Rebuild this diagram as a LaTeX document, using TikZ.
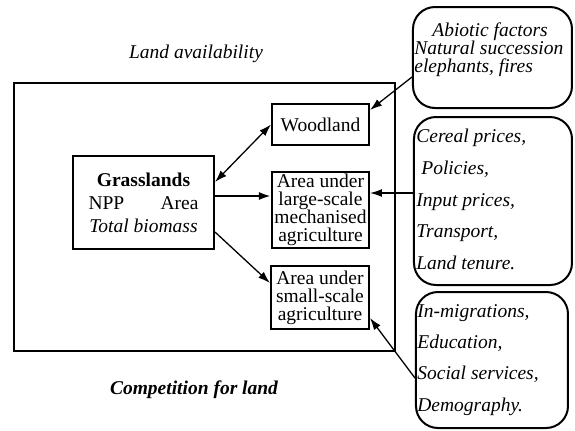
\documentclass[tikz,border=0pt]{standalone}
\usepackage{fontspec}
\setmainfont{LiberationSerif}[Extension=.ttf,
  UprightFont=*-Regular, BoldFont=*-Bold,
  ItalicFont=*-Italic, BoldItalicFont=*-BoldItalic]
\usetikzlibrary{arrows.meta}

\tikzset{
  box/.style={draw, line width=1pt, inner sep=1pt, align=center},
  rbox/.style={draw, line width=1pt, rounded corners=11pt},
  link/.style={line width=0.65pt, -{Latex[length=6pt,width=4pt]}},
}

\begin{document}
\begin{tikzpicture}[x=0.5pt,y=-0.5pt,font=\fontsize{9.75}{9}\selectfont]
      \useasboundingbox (0,0) rectangle (575,430);

      % Draw land frame
      \draw[line width=1pt] (14,83) rectangle (395,351);
      \node (avail) at (196,54) {\itshape Land availability};
      \node (compet) at (194,390) {\bfseries\itshape Competition for land};

      % Draw land uses
      \node[box, minimum width=70.5pt, minimum height=46.5pt,
            font=\fontsize{9.75}{11.5}\selectfont] (grass) at (143.5,202.5)
            {\textbf{Grasslands}\\ NPP\hspace{1.86em}Area\\ \textit{Total biomass}};
      \node[box, minimum width=48.5pt, minimum height=20.5pt] (wood) at (320.5,124.5) {Woodland};
      \node[box, minimum width=48.5pt, minimum height=38pt] (large) at (320.5,210)
            {Area under\\ large-scale\\ mechanised\\ agriculture};
      \node[box, minimum width=49pt, minimum height=31.5pt] (small) at (320,297.5)
            {Area under\\ small-scale\\ agriculture};

      % Draw driving factors
      \node[rbox, minimum width=79.5pt, minimum height=50.5pt] (abiotic) at (492.5,57.5) {};
      \node[rbox, minimum width=79pt, minimum height=84pt] (cereal) at (493,201) {};
      \node[rbox, minimum width=76pt, minimum height=68pt] (migr) at (492,360) {};

      \node[anchor=west, align=left, inner sep=0pt, font=\fontsize{9.75}{9}\selectfont\itshape]
            (abiotictxt) at (414,50)
            {\hspace*{9pt}Abiotic factors\\ Natural succession\\ elephants, fires};
      \node[anchor=west, align=left, inner sep=0pt, font=\fontsize{9.75}{15.9}\selectfont\itshape]
            (cerealtxt) at (416,199.5)
            {Cereal prices,\\ \hspace*{2.5pt}Policies,\\ Input prices,\\ Transport,\\ Land tenure.};
      \node[anchor=west, align=left, inner sep=0pt, font=\fontsize{9.75}{15.6}\selectfont\itshape]
            (migrtxt) at (417,360)
            {In-migrations,\\ Education,\\ Social services,\\ Demography.};

      % Draw links
      \draw[link, {Latex[length=6pt,width=4pt]}-{Latex[length=6pt,width=4pt]}]
            ([yshift=10.25pt]grass.east) -- (wood.west);
      \draw[link, line width=1.1pt] ([yshift=3.25pt]grass.east) -- ([yshift=7pt]large.west);
      \draw[link] ([yshift=-14.75pt]grass.east) -- ([yshift=7.25pt]small.west);

      \draw[link] ([yshift=-9.75pt]abiotic.west) -- ([yshift=7.25pt]wood.east);
      \draw[link] ([yshift=4pt]cereal.west) -- ([yshift=8.5pt]large.east);
      \draw[link] ([yshift=-9pt]migr.west) -- ([yshift=-10.25pt]small.east);

\end{tikzpicture}
\end{document}
